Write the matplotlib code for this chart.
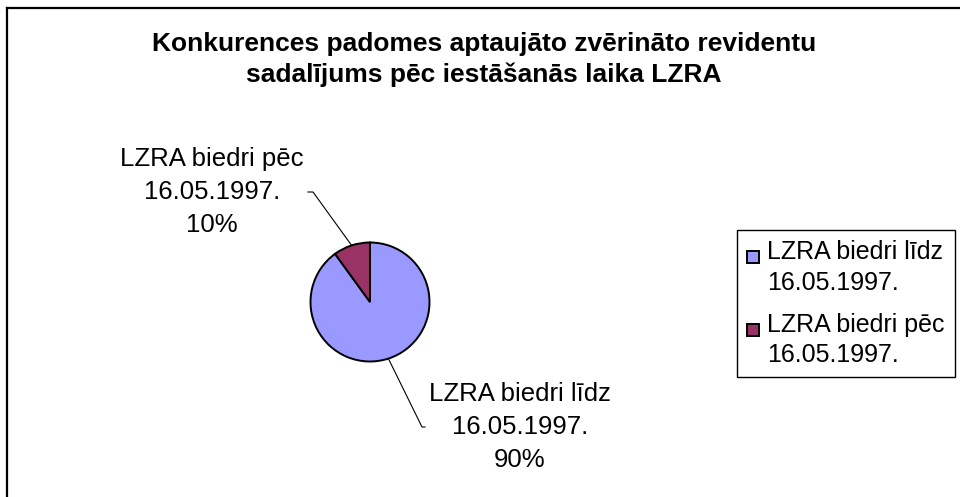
import numpy as np
import matplotlib.pyplot as plt
from matplotlib.patches import Rectangle
from matplotlib.legend_handler import HandlerPatch
from matplotlib.lines import Line2D

plt.rcParams['font.family'] = ['Liberation Sans', 'DejaVu Sans']

title_lines = ["Konkurences padomes aptaujāto zvērināto revidentu",
               "sadalījums pēc iestāšanās laika LZRA"]
categories = ["LZRA biedri līdz\n16.05.1997.", "LZRA biedri pēc\n16.05.1997."]
shares = [90, 10]
colors = ["#9999FF", "#993366"]

W, H = 960, 497
fig = plt.figure(figsize=(W / 100, H / 100), dpi=100)


def fx(x, y):
    return x / W, 1 - y / H


# chart area border (only left and top visible)
fig.add_artist(Line2D([7 / W, 7 / W], [0, 1 - 8 / H], color="black", lw=1.6))
fig.add_artist(Line2D([7 / W, 1], [1 - 8 / H, 1 - 8 / H], color="black", lw=1.6))

# title
fig.text(*fx(484, 51), title_lines[0], ha="center", va="baseline",
         fontsize=19, fontweight="bold")
fig.text(*fx(484, 82), title_lines[1], ha="center", va="baseline",
         fontsize=19, fontweight="bold")

# pie
cx, cy, r = 370, 302, 59.5
ax = fig.add_axes([(cx - r) / W, (H - cy - r) / H, 2 * r / W, 2 * r / H])
wedges, _ = ax.pie(shares, colors=colors, startangle=90, counterclock=False,
                   radius=1, wedgeprops=dict(edgecolor="black", linewidth=1.4))
ax.set_xlim(-1, 1)
ax.set_ylim(-1, 1)
ax.set_aspect("equal")
ax.axis("off")


def to_data(x, y):
    return (x - cx) / r, (cy - y) / r


# label positions (pixels): text centre, leader elbow, leader end
label_layout = [
    ((520, 427), (425, 427), (422, 427)),
    ((212, 192), (308, 192), (313, 192)),
]
for w, cat, val, (tpos, p1, p2) in zip(wedges, categories, shares, label_layout):
    mid = np.deg2rad((w.theta1 + w.theta2) / 2)
    ex, ey = np.cos(mid), np.sin(mid)
    a = to_data(*p1)
    b = to_data(*p2)
    ax.plot([ex, b[0], a[0]], [ey, b[1], a[1]], color="black", lw=0.8, clip_on=False)
    fig.text(*fx(*tpos), f"{cat}\n{val}%", ha="center", va="center",
             fontsize=18.5, linespacing=1.47)


# legend with square aligned to the first text line
def top_square(legend, orig_handle, xdescent, ydescent, width, height, fontsize):
    s = 12 * 72 / 100
    return Rectangle((-xdescent, -ydescent + height - s - 3), s, s)


leg = fig.legend(wedges, categories, loc="upper left",
                 bbox_to_anchor=fx(737, 230), bbox_transform=fig.transFigure,
                 borderaxespad=0, fontsize=18, frameon=True, fancybox=False,
                 edgecolor="black", framealpha=1, borderpad=0.4,
                 handlelength=0.5, handleheight=2.3, handletextpad=0.3,
                 labelspacing=0.72,
                 handler_map={w: HandlerPatch(patch_func=top_square) for w in wedges})
leg.get_frame().set_linewidth(1.0)
for t in leg.get_texts():
    t.set_linespacing(1.35)

fig.savefig("out.png", dpi=100)
